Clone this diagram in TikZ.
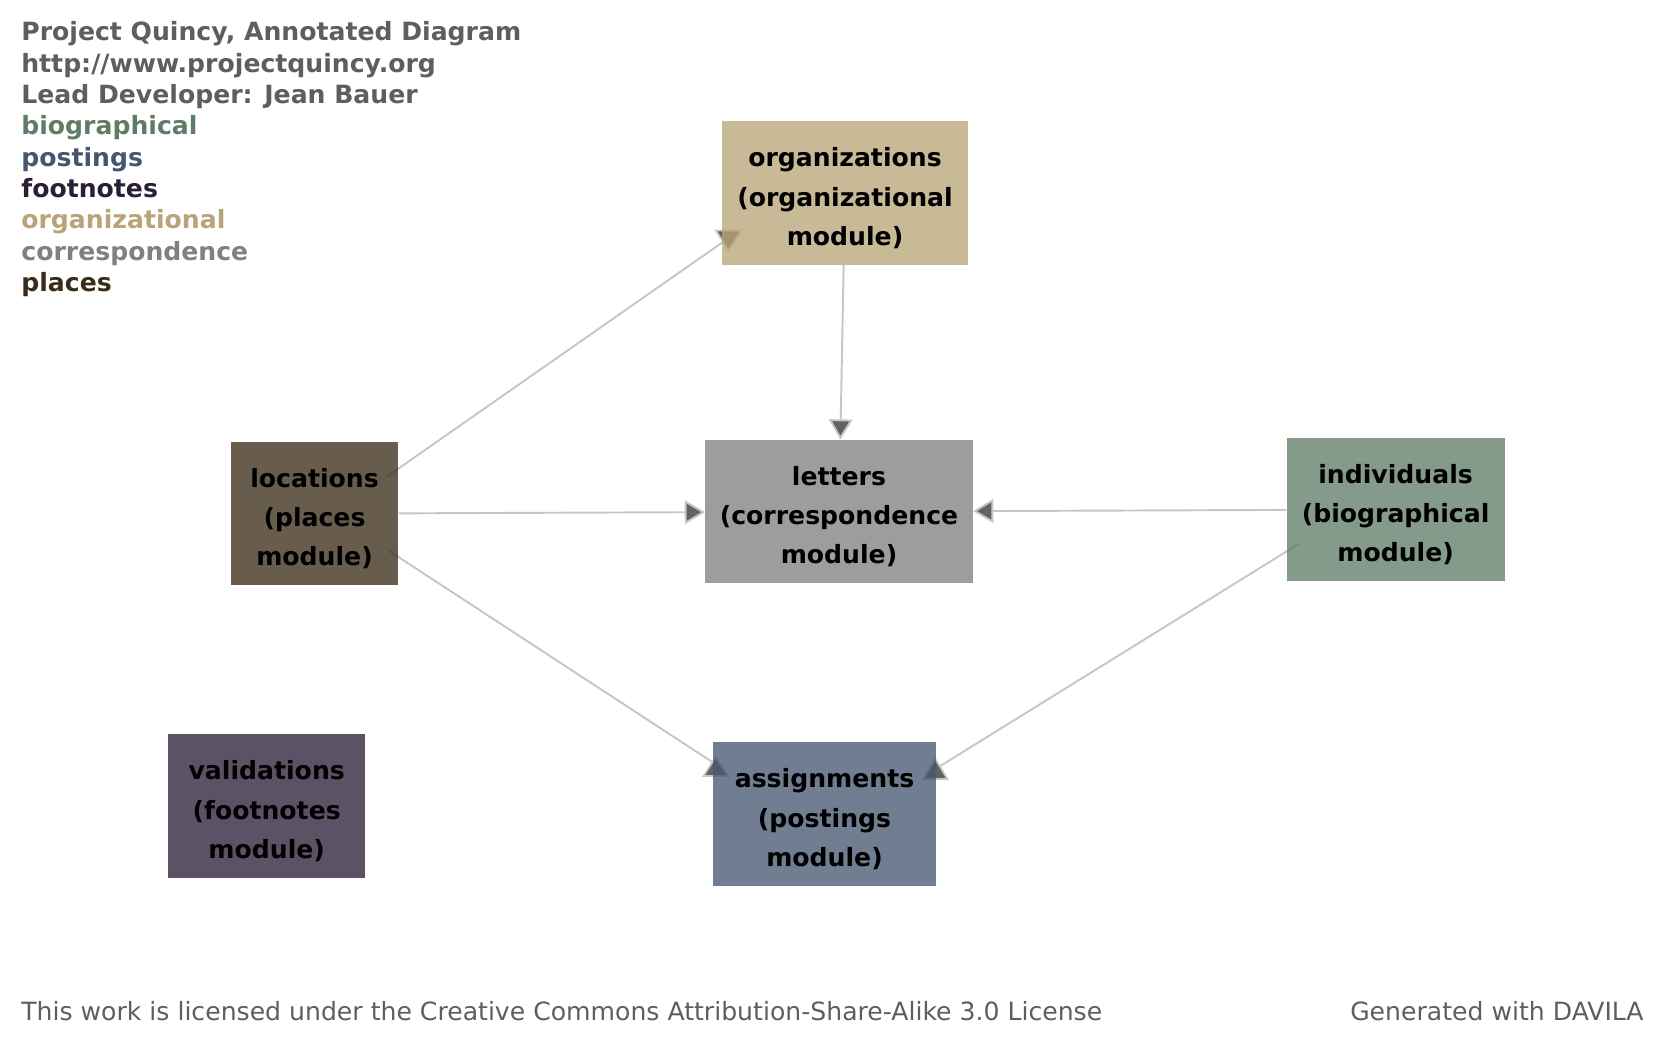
\documentclass[tikz,border=0pt]{standalone}
\usepackage{fontspec}
\setmainfont{DejaVu Sans}
\usetikzlibrary{arrows.meta,calc,backgrounds}
\definecolor{quincyBio}{HTML}{5F7C67}
\definecolor{quincyPost}{HTML}{465670}
\definecolor{quincyFoot}{HTML}{2A1F37}
\definecolor{quincyOrg}{HTML}{B8A478}
\definecolor{quincyCorr}{HTML}{808080}
\definecolor{quincyPlace}{HTML}{3A2C18}
\definecolor{quincyInk}{HTML}{5E5E5E}
\definecolor{quincyEdge}{HTML}{C6C6C6}
\definecolor{quincyTip}{HTML}{626262}

\tikzset{
  module/.style={fill=#1,fill opacity=.77,text opacity=1,text=black,align=center,
    minimum height=2.868cm,inner xsep=2pt,font=\bfseries\fontsize{14.3}{22.3}\selectfont,
    text height=59.5pt,text depth=0pt},
  link/.style={draw=quincyEdge,line width=1.1pt},
  tipmark/.style={fill=quincyTip,draw=quincyEdge,line width=1pt},
}

\begin{document}
\begin{tikzpicture}[x=0.02cm,y=-0.02cm,>={Triangle[length=11.5pt,width=13.5pt,fill=quincyTip]}]
\useasboundingbox (0,0) rectangle (1666,1041);
% header and legend
\foreach \i/\txt/\col in {0/{Project Quincy, Annotated Diagram}/quincyInk,1/{http://www.projectquincy.org}/quincyInk,
  2/{Lead Developer: Jean Bauer}/quincyInk,3/biographical/quincyBio,4/postings/quincyPost,5/footnotes/quincyFoot,
  6/organizational/quincyOrg,7/correspondence/quincyCorr,8/places/quincyPlace}{
  \node[anchor=base west,inner sep=0pt,text=\col,font=\bfseries\fontsize{14.3}{17}\selectfont] (leg\i) at (21,{40.8+\i*31.35}) {\txt};
}

% modules
\node[module=quincyOrg,minimum width=4.91cm] (org) at (845,193) {organizations\\(organizational\\module)};
\node[module=quincyCorr,minimum width=5.35cm] (let) at (839,511.6) {letters\\(correspondence\\module)};
\node[module=quincyPlace,minimum width=3.36cm] (loc) at (314.5,513.7) {locations\\(places\\module)};
\node[module=quincyBio,minimum width=4.36cm] (ind) at (1395.6,509.5) {individuals\\(biographical\\module)};
\node[module=quincyFoot,minimum width=3.95cm] (val) at (266.7,806) {validations\\(footnotes\\module)};
\node[module=quincyPost,minimum width=4.46cm] (asg) at (824.5,814) {assignments\\(postings\\module)};

% links go under the boxes
\begin{scope}[on background layer]
\draw[link,->] (org) -- (let);
\draw[link,->] (loc) -- (let);
\draw[link,->] (ind) -- (let);
\coordinate (locHi) at ($(loc.north east)+(-12,35)$);
\coordinate (locLo) at ($(loc.south east)+(-10,-35)$);
\coordinate (indLo) at ($(ind.south west)+(13,-38)$);
\coordinate (orgIn) at ($(org.south west)+(1,-23)$);
\coordinate (asgL) at ($(asg.north west)+(1,21)$);
\coordinate (asgR) at ($(asg.north east)+(4,24)$);
\draw[link] (locHi) -- (orgIn);
\draw[link] (locLo) -- (asgL);
\draw[link] (indLo) -- (asgR);
% upright tips
\filldraw[tipmark] ($(org.south west)+(-6,-34.6)$) -- ++(25,0) -- ++(-12.5,20) -- cycle;
\filldraw[tipmark] ($(asg.north west)+(-9,34)$) -- ++(24,0) -- ++(-12,-19) -- cycle;
\filldraw[tipmark] ($(asg.north east)+(-13,37)$) -- ++(24,0) -- ++(-12,-20) -- cycle;
\end{scope}

% footer
\node[anchor=base west,inner sep=0pt,text=quincyInk,font=\fontsize{14.3}{17}\selectfont] (lic) at (21,1020) {This work is licensed under the Creative Commons Attribution-Share-Alike 3.0 License};
\node[anchor=base east,inner sep=0pt,text=quincyInk,font=\fontsize{14.3}{17}\selectfont] (gen) at (1644,1020) {Generated with DAVILA};
\end{tikzpicture}
\end{document}
